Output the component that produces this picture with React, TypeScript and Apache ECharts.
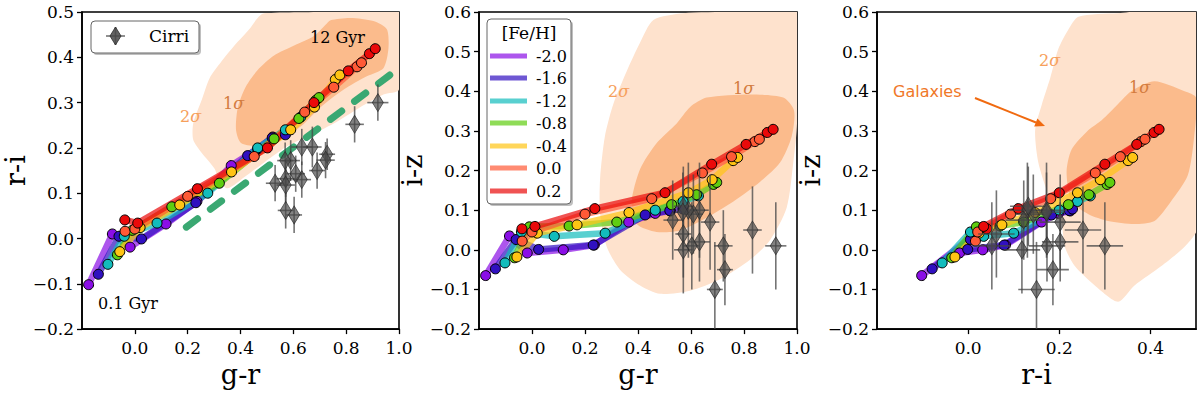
import React, { useEffect, useRef } from 'react';
import * as echarts from 'echarts';

const SERIF = '"DejaVu Serif", serif';
const SANS = '"DejaVu Sans", sans-serif';

// ---------- metallicity tracks (g-r, r-i, i-z) ----------
const fehLabels = ['-2.0', '-1.6', '-1.2', '-0.8', '-0.4', '0.0', '0.2'];
const trackColors = ['#8a0ee6', '#3010c0', '#12bcbc', '#5fcd10', '#ffc414', '#ff5a36', '#ea0a0a'];

const grM20 = [-0.175, -0.085, -0.018, 0.118, 0.235, 0.365, 0.465, 0.522];
const riM20 = [-0.102, 0.010, -0.019, 0.032, 0.082, 0.161, 0.198, 0.224];
const izM20 = [-0.065, 0.035, -0.008, 0.000, 0.012, 0.070, 0.092, 0.098];

const grM16 = [-0.138, -0.060, 0.025, 0.231, 0.427, 0.520, 0.570];
const riM16 = [-0.079, 0.005, -0.001, 0.079, 0.183, 0.222, 0.229];
const izM16 = [-0.048, 0.026, 0.001, 0.012, 0.088, 0.099, 0.103];

const grM12 = [-0.102, -0.040, 0.084, 0.276, 0.465, 0.570, 0.628];
const riM12 = [-0.057, 0.005, 0.034, 0.100, 0.200, 0.240, 0.268];
const izM12 = [-0.033, 0.045, 0.034, 0.042, 0.100, 0.122, 0.136];

const grM08 = [-0.066, -0.010, 0.140, 0.320, 0.527, 0.621, 0.685, 0.697];
const riM08 = [-0.036, 0.018, 0.070, 0.122, 0.220, 0.265, 0.305, 0.311];
const izM08 = [-0.020, 0.058, 0.060, 0.070, 0.114, 0.139, 0.165, 0.170];

const grM04 = [-0.057, 0.020, 0.170, 0.366, 0.590, 0.680, 0.759, 0.776];
const riM04 = [-0.029, 0.024, 0.074, 0.147, 0.240, 0.290, 0.351, 0.361];
const izM04 = [-0.018, 0.042, 0.063, 0.094, 0.144, 0.177, 0.225, 0.233];

const grP00 = [-0.037, 0.000, 0.200, 0.452, 0.643, 0.753, 0.841, 0.858];
const riP00 = [0.016, 0.021, 0.093, 0.181, 0.279, 0.334, 0.379, 0.388];
const izP00 = [0.022, 0.045, 0.090, 0.129, 0.194, 0.235, 0.273, 0.279];

const grP02 = [-0.038, 0.011, 0.237, 0.502, 0.678, 0.808, 0.888, 0.910];
const riP02 = [0.041, 0.034, 0.110, 0.200, 0.300, 0.370, 0.408, 0.419];
const izP02 = [0.053, 0.059, 0.104, 0.144, 0.216, 0.266, 0.296, 0.304];

const tracksGR = [grM20, grM16, grM12, grM08, grM04, grP00, grP02];
const tracksRI = [riM20, riM16, riM12, riM08, riM04, riP00, riP02];
const tracksIZ = [izM20, izM16, izM12, izM08, izM04, izP00, izP02];

// ---------- cirri ----------
const cirriGR = [0.92, 0.832, 0.728, 0.722, 0.69, 0.672, 0.632, 0.632, 0.609, 0.603, 0.59, 0.571, 0.571, 0.571, 0.531, 0.569];
const cirriRI = [0.30, 0.252, 0.186, 0.173, 0.15, 0.202, 0.202, 0.13, 0.143, 0.052, 0.172, 0.132, 0.062, 0.118, 0.122, 0.172];
const cirriIZ = [0.01, 0.05, -0.05, 0.01, -0.10, 0.07, 0.02, 0.10, 0.09, 0.01, 0.10, 0.11, 0.04, 0.0, 0.075, 0.095];
const cirriGRErr = [0.04, 0.035, 0.03, 0.035, 0.03, 0.035, 0.04, 0.035, 0.035, 0.03, 0.035, 0.035, 0.03, 0.035, 0.035, 0.03];
const cirriRIErr = [0.04, 0.04, 0.035, 0.04, 0.04, 0.045, 0.04, 0.04, 0.04, 0.04, 0.045, 0.04, 0.04, 0.04, 0.04, 0.04];
const cirriIZErr = [0.11, 0.11, 0.09, 0.09, 0.12, 0.12, 0.1, 0.12, 0.1, 0.11, 0.12, 0.1, 0.11, 0.11, 0.1, 0.1];

// ---------- dashed reference line (panel 1) ----------
const dashGR = [0.195, 1.0];
const dashRI = [0.025, 0.376];

// ---------- galaxy contours ----------
const gal2sP1x = [0.49, 0.753, 1.0, 1.0, 0.941, 0.853, 0.753, 0.653, 0.578, 0.49, 0.415, 0.352, 0.321, 0.302, 0.252, 0.221, 0.221, 0.252, 0.283, 0.327, 0.377, 0.433, 0.465];
const gal2sP1y = [0.497, 0.5, 0.5, 0.329, 0.318, 0.29, 0.254, 0.225, 0.204, 0.168, 0.136, 0.111, 0.125, 0.154, 0.19, 0.218, 0.254, 0.304, 0.354, 0.39, 0.426, 0.462, 0.487];
const gal1sP1x = [0.741, 0.816, 0.903, 0.954, 0.96, 0.941, 0.878, 0.791, 0.703, 0.628, 0.553, 0.477, 0.402, 0.383, 0.39, 0.421, 0.465, 0.527, 0.603, 0.678, 0.722];
const gal1sP1y = [0.482, 0.487, 0.48, 0.462, 0.419, 0.376, 0.358, 0.329, 0.29, 0.247, 0.218, 0.204, 0.211, 0.24, 0.29, 0.336, 0.372, 0.404, 0.426, 0.447, 0.472];

const gal2sP2x = [0.458, 0.571, 0.76, 1.0, 1.0, 0.986, 0.961, 0.898, 0.823, 0.709, 0.596, 0.483, 0.408, 0.332, 0.282, 0.257, 0.257, 0.275, 0.307, 0.357, 0.408];
const gal2sP2y = [0.58, 0.597, 0.6, 0.6, 0.319, 0.22, 0.106, 0.024, -0.025, -0.074, -0.103, -0.111, -0.09, -0.05, 0.008, 0.09, 0.18, 0.286, 0.368, 0.45, 0.523];
const gal1sP2x = [0.659, 0.823, 0.948, 0.989, 0.98, 0.936, 0.86, 0.76, 0.659, 0.558, 0.47, 0.395, 0.376, 0.408, 0.47, 0.546, 0.596];
const gal1sP2y = [0.384, 0.392, 0.384, 0.351, 0.286, 0.22, 0.171, 0.122, 0.081, 0.049, 0.045, 0.065, 0.122, 0.204, 0.269, 0.319, 0.36];

const gal2sP3x = [0.242, 0.329, 0.504, 0.504, 0.475, 0.424, 0.365, 0.329, 0.278, 0.234, 0.212, 0.205, 0.176, 0.154, 0.147, 0.162, 0.18, 0.198, 0.22];
const gal2sP3y = [0.588, 0.597, 0.6, 0.057, 0.008, -0.041, -0.09, -0.131, -0.09, -0.041, 0.008, 0.065, 0.139, 0.22, 0.302, 0.368, 0.433, 0.507, 0.556];
const gal1sP3x = [0.358, 0.409, 0.475, 0.5, 0.496, 0.482, 0.445, 0.409, 0.365, 0.307, 0.264, 0.227, 0.216, 0.227, 0.264, 0.293, 0.329];
const gal1sP3y = [0.4, 0.425, 0.4, 0.384, 0.286, 0.188, 0.122, 0.073, 0.065, 0.073, 0.09, 0.122, 0.196, 0.253, 0.302, 0.327, 0.368];

const COL_2S = '#fee2cd';
const COL_1S = '#fbbb8c';

const fmt = (v: number) => {
  if (Math.abs(v) < 1e-9) return '0.0';
  const s = Math.abs(v).toFixed(1);
  return v < 0 ? '\u2212' + s : s;
};

const GRIDS = [
  { left: 82, width: 317 },
  { left: 479, width: 318 },
  { left: 877, width: 319 },
];

function makeXAxis(idx: number, min: number, max: number, name: string, showMax: boolean) {
  return {
    type: 'value', gridIndex: idx, min, max, interval: 0.2,
    name, nameLocation: 'middle', nameGap: 24,
    nameTextStyle: { fontFamily: SERIF, fontSize: 27, color: '#000' },
    axisLine: { show: true, onZero: false, lineStyle: { color: '#000', width: 1.6 } },
    axisTick: { show: true, inside: false, length: 5, lineStyle: { color: '#000', width: 1.3 } },
    axisLabel: { fontFamily: SERIF, fontSize: 17, color: '#000', margin: 10, showMinLabel: false, showMaxLabel: showMax, formatter: fmt },
    splitLine: { show: false },
  };
}
function makeYAxis(idx: number, min: number, max: number, name: string) {
  return {
    type: 'value', gridIndex: idx, min, max, interval: 0.1,
    name, nameLocation: 'middle', nameGap: 52,
    nameTextStyle: { fontFamily: SERIF, fontSize: 27, color: '#000' },
    axisLine: { show: true, onZero: false, lineStyle: { color: '#000', width: 1.6 } },
    axisTick: { show: true, inside: false, length: 5, lineStyle: { color: '#000', width: 1.3 } },
    axisLabel: { fontFamily: SERIF, fontSize: 17, color: '#000', margin: 8, formatter: fmt },
    splitLine: { show: false },
  };
}

function polySeries(idx: number, xs: number[], ys: number[], color: string, z: number) {
  return {
    type: 'custom', xAxisIndex: idx, yAxisIndex: idx, clip: true, silent: true, z,
    data: [[0.5, 0.2]],
    encode: { x: 0, y: 1 },
    renderItem: (_p: any, api: any) => ({
      type: 'polygon',
      shape: { points: xs.map((x, i) => api.coord([x, ys[i]])), smooth: 0.25 },
      style: { fill: color, stroke: null },
    }),
  };
}

function errSeries(idx: number, xs: number[], ys: number[], ex: number[], ey: number[]) {
  return {
    type: 'custom', xAxisIndex: idx, yAxisIndex: idx, clip: true, silent: true, z: 6,
    data: xs.map((x, i) => [x, ys[i], ex[i], ey[i]]),
    encode: { x: 0, y: 1 },
    renderItem: (_p: any, api: any) => {
      const x = api.value(0), y = api.value(1), dx = api.value(2), dy = api.value(3);
      const a = api.coord([x - dx, y]), b = api.coord([x + dx, y]);
      const c = api.coord([x, y - dy]), d = api.coord([x, y + dy]);
      const st = { stroke: 'rgba(70,70,70,0.75)', lineWidth: 1.6 };
      return {
        type: 'group',
        children: [
          { type: 'line', shape: { x1: a[0], y1: a[1], x2: b[0], y2: b[1] }, style: st },
          { type: 'line', shape: { x1: c[0], y1: c[1], x2: d[0], y2: d[1] }, style: st },
        ],
      };
    },
  };
}

function diamondSeries(idx: number, xs: number[], ys: number[]) {
  return {
    type: 'scatter', xAxisIndex: idx, yAxisIndex: idx, silent: true, z: 7,
    data: xs.map((x, i) => [x, ys[i]]),
    symbol: 'diamond', symbolSize: [11, 18],
    itemStyle: { color: 'rgba(72,72,72,0.85)', borderColor: '#2a2a2a', borderWidth: 0.8 },
  };
}

function trackSeries(idx: number, xsArr: number[][], ysArr: number[][]) {
  return xsArr.map((xs, k) => ({
    type: 'line', xAxisIndex: idx, yAxisIndex: idx, silent: true, z: 4,
    data: xs.map((x, i) => [x, ysArr[k][i]]),
    symbol: 'circle', symbolSize: 10, showSymbol: true, showAllSymbol: true,
    itemStyle: { color: trackColors[k], borderColor: '#000', borderWidth: 1 },
    lineStyle: { color: trackColors[k], width: 6.5, opacity: 0.7, cap: 'round', join: 'round' },
  }));
}

function sigmaText(left: number, y: number, num: string, color: string) {
  return {
    type: 'text', left, top: y - 9, z: 20,
    style: {
      text: num + '{s|\u03c3}', fill: color, font: `16px ${SERIF}`,
      rich: { s: { fontStyle: 'italic', fontFamily: SERIF, fontSize: 16, fill: color, color } },
    },
  };
}

export default function App() {
  const ref = useRef<HTMLDivElement>(null);
  useEffect(() => {
    if (!ref.current) return;
    const chart = echarts.init(ref.current, undefined, { renderer: 'svg' });

    const series: any[] = [
      polySeries(0, gal2sP1x, gal2sP1y, COL_2S, 1),
      polySeries(0, gal1sP1x, gal1sP1y, COL_1S, 2),
      polySeries(1, gal2sP2x, gal2sP2y, COL_2S, 1),
      polySeries(1, gal1sP2x, gal1sP2y, COL_1S, 2),
      polySeries(2, gal2sP3x, gal2sP3y, COL_2S, 1),
      polySeries(2, gal1sP3x, gal1sP3y, COL_1S, 2),
      {
        type: 'line', xAxisIndex: 0, yAxisIndex: 0, silent: true, z: 3, symbol: 'none',
        data: dashGR.map((x, i) => [x, dashRI[i]]),
        lineStyle: { color: '#3aa872', width: 7, type: [14, 16], cap: 'round' },
      },
      ...trackSeries(0, tracksGR, tracksRI),
      ...trackSeries(1, tracksGR, tracksIZ),
      ...trackSeries(2, tracksRI, tracksIZ),
      errSeries(0, cirriGR, cirriRI, cirriGRErr, cirriRIErr),
      errSeries(1, cirriGR, cirriIZ, cirriGRErr, cirriIZErr),
      errSeries(2, cirriRI, cirriIZ, cirriRIErr, cirriIZErr),
      diamondSeries(0, cirriGR, cirriRI),
      diamondSeries(1, cirriGR, cirriIZ),
      diamondSeries(2, cirriRI, cirriIZ),
    ];

    const legendYs = [56, 78, 101, 123, 146, 168, 191];
    const graphic: any[] = [
      // annotations
      { type: 'text', left: 310, top: 29, z: 20, style: { text: '12 Gyr', fill: '#000', font: `16px ${SERIF}` } },
      { type: 'text', left: 98, top: 295, z: 20, style: { text: '0.1 Gyr', fill: '#000', font: `16px ${SERIF}` } },
      sigmaText(180, 117, '2', '#f6a05c'),
      sigmaText(223, 104, '1', '#d27b3e'),
      sigmaText(608, 92, '2', '#f6a05c'),
      sigmaText(733, 89, '1', '#d27b3e'),
      sigmaText(1039, 61, '2', '#f6a05c'),
      sigmaText(1129, 88, '1', '#d27b3e'),
      { type: 'text', left: 893, top: 83, z: 20, style: { text: 'Galaxies', fill: '#f07828', font: `16px ${SANS}` } },
      { type: 'line', z: 20, shape: { x1: 975, y1: 98, x2: 1036, y2: 122.5 }, style: { stroke: '#f06a10', lineWidth: 2 } },
      { type: 'polygon', z: 20, shape: { points: [[1045, 126], [1034.2, 126.4], [1037.4, 118.4]] }, style: { fill: '#f06a10' } },
      // legend 1 (Cirri)
      { type: 'rect', z: 19, shape: { x: 93, y: 23, width: 108, height: 32, r: 4 }, style: { fill: 'rgba(0,0,0,0.25)' } },
      { type: 'rect', z: 20, shape: { x: 91, y: 21, width: 108, height: 32, r: 4 }, style: { fill: '#fff', stroke: '#666', lineWidth: 1 } },
      { type: 'line', z: 21, shape: { x1: 106, y1: 36, x2: 125, y2: 36 }, style: { stroke: 'rgba(70,70,70,0.75)', lineWidth: 1.6 } },
      { type: 'line', z: 21, shape: { x1: 115.5, y1: 27, x2: 115.5, y2: 45 }, style: { stroke: 'rgba(70,70,70,0.75)', lineWidth: 1.6 } },
      { type: 'polygon', z: 22, shape: { points: [[115.5, 27], [121, 36], [115.5, 45], [110, 36]] }, style: { fill: 'rgba(72,72,72,0.85)', stroke: '#2a2a2a', lineWidth: 0.8 } },
      { type: 'text', z: 21, left: 149, top: 27, style: { text: 'Cirri', fill: '#000', font: `17px ${SERIF}` } },
      // legend 2 ([Fe/H])
      { type: 'rect', z: 19, shape: { x: 489, y: 21, width: 84, height: 185, r: 4 }, style: { fill: 'rgba(0,0,0,0.25)' } },
      { type: 'rect', z: 20, shape: { x: 487, y: 19, width: 84, height: 185, r: 4 }, style: { fill: '#fff', stroke: '#666', lineWidth: 1 } },
      { type: 'text', z: 21, x: 529, y: 33, style: { text: '[Fe/H]', fill: '#000', font: `17px ${SERIF}`, textAlign: 'center', textVerticalAlign: 'middle' } },
      ...fehLabels.flatMap((lab, k) => [
        { type: 'line', z: 21, shape: { x1: 490, y1: legendYs[k], x2: 527, y2: legendYs[k] }, style: { stroke: trackColors[k], opacity: 0.7, lineWidth: 5 } },
        { type: 'text', z: 21, x: 536, y: legendYs[k], style: { text: lab, fill: '#000', font: `16px ${SERIF}`, textVerticalAlign: 'middle' } },
      ]),
    ];

    chart.setOption({
      animation: false,
      backgroundColor: '#fff',
      grid: GRIDS.map(g => ({ left: g.left, width: g.width, top: 12, height: 326, show: true, borderColor: '#000', borderWidth: 1.6, backgroundColor: 'transparent' })),
      xAxis: [
        makeXAxis(0, -0.2, 1.0, 'g-r', true),
        makeXAxis(1, -0.2, 1.0, 'g-r', true),
        makeXAxis(2, -0.2, 0.5, 'r-i', false),
      ],
      yAxis: [
        makeYAxis(0, -0.2, 0.5, 'r-i'),
        makeYAxis(1, -0.2, 0.6, 'i-z'),
        makeYAxis(2, -0.2, 0.6, 'i-z'),
      ],
      series,
      graphic,
    });
    return () => chart.dispose();
  }, []);
  return <div ref={ref} style={{ position: 'absolute', left: 0, top: 0, width: 1200, height: 393 }} />;
}
